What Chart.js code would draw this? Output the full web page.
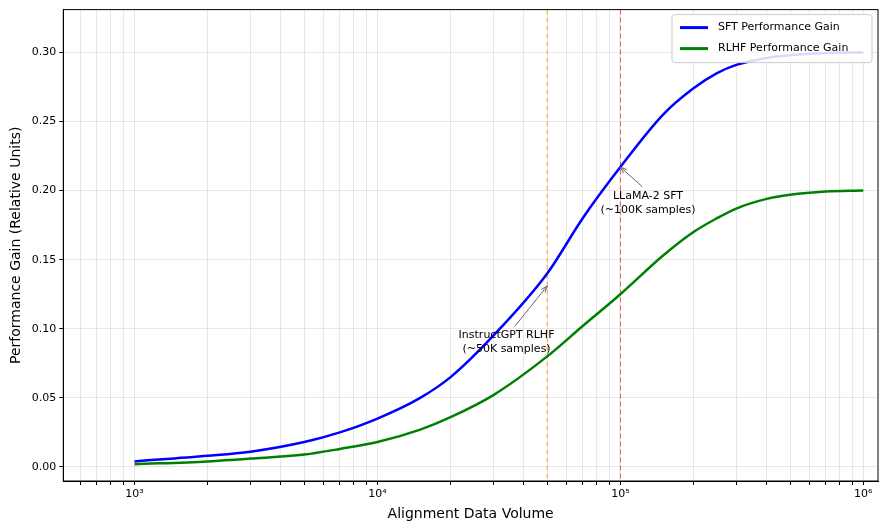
<!DOCTYPE html>
<html>
<head>
<meta charset="utf-8">
<script src="https://cdn.jsdelivr.net/npm/chart.js@4.4.6/dist/chart.umd.min.js"></script>
<style>
  html, body { margin: 0; padding: 0; background: #fff; }
  #wrap { width: 890px; height: 531px; }
</style>
</head>
<body>
<div id="wrap"><canvas id="c" width="890" height="531"></canvas></div>
<script>
// values
const volumes = [1000, 2000, 3000, 5000, 7000, 10000, 15000, 20000, 30000, 50000, 70000, 100000, 150000, 200000, 250000, 300000, 400000, 500000, 700000, 1000000]
const sftGain = [0.004, 0.008, 0.011, 0.018, 0.025, 0.035, 0.050, 0.065, 0.095, 0.140, 0.180, 0.217, 0.255, 0.274, 0.285, 0.291, 0.296, 0.298, 0.2995, 0.300]
const rlhfGain = [0.002, 0.004, 0.006, 0.009, 0.013, 0.018, 0.027, 0.036, 0.052, 0.080, 0.102, 0.125, 0.153, 0.170, 0.180, 0.187, 0.194, 0.197, 0.1993, 0.200]
const yTicks = [0, 0.05, 0.10, 0.15, 0.20, 0.25, 0.30]
const markers = [
  { x: 50000, color: '#f5a623' },
  { x: 100000, color: '#e8504a' }
]
const notes = [
  { lines: ['LLaMA-2 SFT', '(~100K samples)'], at: [130000, 0.194], tip: [100000, 0.217] },
  { lines: ['InstructGPT RLHF', '(~50K samples)'], at: [34000, 0.093], tip: [50000, 0.131] }
]
const sup = { 0: '⁰', 1: '¹', 2: '²', 3: '³', 4: '⁴', 5: '⁵', 6: '⁶', 7: '⁷' }

const FONT = 'DejaVu Sans'
Chart.defaults.font.family = FONT
Chart.defaults.color = '#000'

const extras = {
  id: 'extras',
  afterDatasetsDraw (chart) {
    const { ctx, scales: { x, y }, chartArea } = chart
    ctx.save()
    // frame
    ctx.strokeStyle = '#000'
    ctx.lineWidth = 1
    ctx.strokeRect(chartArea.left, chartArea.top, chartArea.right - chartArea.left, chartArea.bottom - chartArea.top)
    ctx.font = '11px ' + FONT
    ctx.fillStyle = '#000'
    ctx.textAlign = 'center'
    notes.forEach(n => {
      const px = x.getPixelForValue(n.at[0])
      const py = y.getPixelForValue(n.at[1])
      const tx = x.getPixelForValue(n.tip[0])
      const ty = y.getPixelForValue(n.tip[1])
      n.lines.forEach((l, i) => ctx.fillText(l, px, py + i * 14))
      const sx = px + (tx - px) * 0.2
      const sy = py - 12
      ctx.strokeStyle = '#666'
      ctx.lineWidth = 1
      ctx.beginPath(); ctx.moveTo(sx, sy); ctx.lineTo(tx, ty); ctx.stroke()
      const a = Math.atan2(ty - sy, tx - sx)
      ctx.beginPath()
      ctx.moveTo(tx, ty)
      ctx.lineTo(tx - 7 * Math.cos(a - 0.35), ty - 7 * Math.sin(a - 0.35))
      ctx.moveTo(tx, ty)
      ctx.lineTo(tx - 7 * Math.cos(a + 0.35), ty - 7 * Math.sin(a + 0.35))
      ctx.stroke()
    })
    // legend
    const items = [['SFT Performance Gain', '#0000ff'], ['RLHF Performance Gain', '#008000']]
    const bw = 200, bh = 48
    const bx = chartArea.right - bw - 6, by = chartArea.top + 5
    ctx.fillStyle = 'rgba(255,255,255,0.85)'
    ctx.strokeStyle = '#ccc'
    ctx.beginPath(); ctx.roundRect(bx, by, bw, bh, 3); ctx.fill(); ctx.stroke()
    ctx.textAlign = 'left'
    ctx.textBaseline = 'middle'
    items.forEach(([t, c], i) => {
      const ly = by + 13 + i * 21
      ctx.strokeStyle = c; ctx.lineWidth = 3
      ctx.beginPath(); ctx.moveTo(bx + 8, ly); ctx.lineTo(bx + 36, ly); ctx.stroke()
      ctx.fillStyle = '#000'
      ctx.fillText(t, bx + 46, ly)
    })
    ctx.restore()
  }
}

const markerSets = markers.map(m => ({
  data: [{ x: m.x, y: -0.02 }, { x: m.x, y: 0.34 }],
  borderColor: m.color,
  borderWidth: 1,
  borderDash: [5, 3],
  pointRadius: 0,
  order: 2
}))

new Chart(document.getElementById('c'), {
  type: 'line',
  data: {
    datasets: [
      { label: 'SFT Performance Gain', data: volumes.map((v, i) => ({ x: v, y: sftGain[i] })), borderColor: '#0000ff', borderWidth: 2.5, pointRadius: 0, cubicInterpolationMode: 'monotone', order: 1 },
      { label: 'RLHF Performance Gain', data: volumes.map((v, i) => ({ x: v, y: rlhfGain[i] })), borderColor: '#008000', borderWidth: 2.5, pointRadius: 0, cubicInterpolationMode: 'monotone', order: 1 },
      ...markerSets
    ]
  },
  options: {
    responsive: false,
    animation: false,
    layout: { padding: { top: 8, right: 12, left: 4, bottom: 4 } },
    plugins: { legend: { display: false }, tooltip: { enabled: false } },
    scales: {
      x: {
        type: 'logarithmic',
        min: 509, max: 1150000,
        afterBuildTicks: ax => {
          const t = []
          for (let e = 2; e <= 6; e++) for (let m = 1; m <= 9; m++) {
            const v = m * Math.pow(10, e)
            if (v >= ax.min && v <= ax.max) t.push({ value: v })
          }
          ax.ticks = t
        },
        ticks: {
          autoSkip: false, maxRotation: 0, font: { size: 11 },
          callback: v => {
            const e = Math.round(Math.log10(v))
            return Math.abs(Math.pow(10, e) - v) < 1e-6 * v ? '10' + sup[e] : ''
          }
        },
        grid: { color: 'rgba(0,0,0,0.09)', tickColor: '#000', tickLength: 4 },
        border: { color: '#000' },
        title: { display: true, text: 'Alignment Data Volume', font: { size: 14 }, padding: { top: 2 } }
      },
      y: {
        min: -0.0102, max: 0.331,
        afterBuildTicks: ax => { ax.ticks = yTicks.map(v => ({ value: v })) },
        ticks: { font: { size: 11 }, callback: v => v.toFixed(2) },
        grid: { color: 'rgba(0,0,0,0.09)', tickColor: '#000', tickLength: 4 },
        border: { color: '#000' },
        title: { display: true, text: 'Performance Gain (Relative Units)', font: { size: 14 } }
      }
    }
  },
  plugins: [extras]
})
</script>
</body>
</html>
